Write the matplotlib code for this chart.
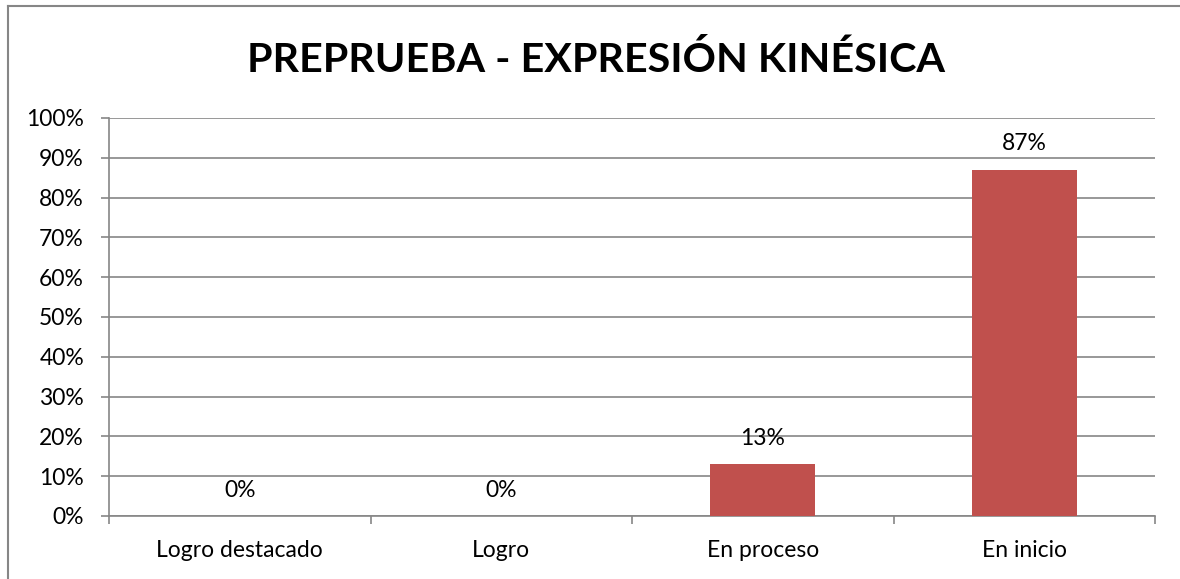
import matplotlib
matplotlib.use("Agg")
import matplotlib.pyplot as plt
from matplotlib.lines import Line2D
from matplotlib.ticker import MultipleLocator, FuncFormatter, FixedLocator

categories = ["Logro destacado", "Logro", "En proceso", "En inicio"]
values = [0, 0, 13, 87]
title = "PREPRUEBA - EXPRESIÓN KINÉSICA"

plt.rcParams['font.family'] = ['Lato', 'DejaVu Sans']

W, H = 1180, 579
fig = plt.figure(figsize=(W / 100, H / 100), dpi=100)
ax = fig.add_axes([109 / W, (H - 516) / H, (1155 - 109) / W, (516 - 118) / H])

grid_c = "#868686"
txt_c = "#000000"
fs = 16.5
x = list(range(len(categories)))
ax.bar(x, values, width=0.4, color="#C0504D", zorder=3)
ax.set_xlim(-0.5, len(categories) - 0.5)
ax.set_ylim(0, 100)
ax.yaxis.set_major_locator(MultipleLocator(10))
ax.yaxis.set_major_formatter(FuncFormatter(lambda v, p: f"{int(round(v))}%"))
ax.grid(axis="y", color=grid_c, linewidth=1.2, zorder=0)
ax.set_xticks(x)
ax.set_xticklabels(categories)
ax.xaxis.set_minor_locator(FixedLocator([i - 0.5 for i in range(len(categories) + 1)]))
ax.tick_params(axis="x", which="major", length=0, pad=17, labelsize=fs, labelcolor=txt_c)
ax.tick_params(axis="x", which="minor", length=6, color=grid_c, width=1.2)
ax.tick_params(axis="y", length=6, color=grid_c, width=1.2, labelsize=fs, pad=12, labelcolor=txt_c)
for s in ["top", "right"]:
    ax.spines[s].set_visible(False)
for s in ["left", "bottom"]:
    ax.spines[s].set_color(grid_c)
    ax.spines[s].set_linewidth(1.2)

for xi, v in zip(x, values):
    ax.annotate(f"{v}%", (xi, v), xytext=(0, 11), textcoords="offset points",
                ha="center", va="bottom", fontsize=fs, color=txt_c)

fig.text(596 / W, 1 - 60 / H, title, ha="center", va="center",
         fontsize=29.7, fontweight="bold")

fig.add_artist(Line2D([8 / W, 8 / W], [0, 1 - 6 / H], transform=fig.transFigure,
                      color=grid_c, linewidth=1.5))
fig.add_artist(Line2D([8 / W, 1], [1 - 6 / H, 1 - 6 / H], transform=fig.transFigure,
                      color=grid_c, linewidth=1.5))

fig.savefig("out.png", dpi=100)
